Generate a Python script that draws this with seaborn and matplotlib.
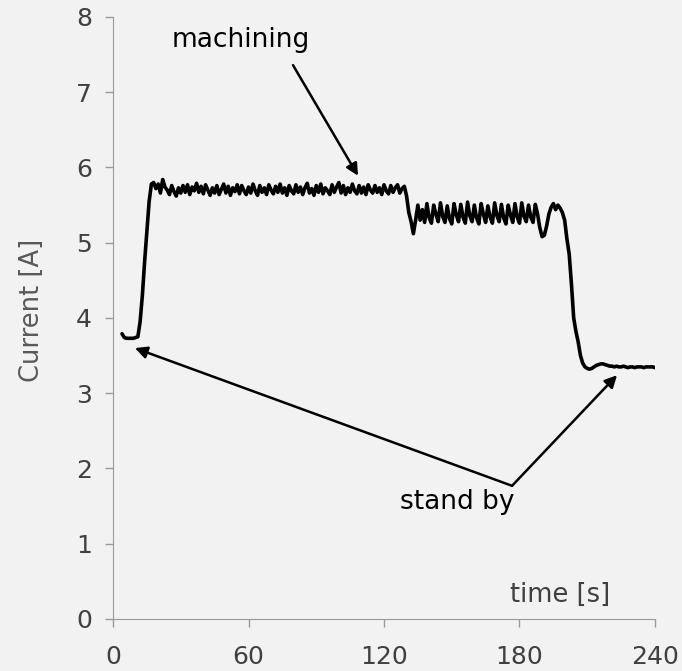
import numpy as np
import seaborn as sns
import matplotlib.pyplot as plt

# current trace, 1 s sampling
seg_start = [4, 12, 18, 130, 135, 189, 201, 212]

standby_start = [3.79, 3.74, 3.73, 3.73, 3.73, 3.73, 3.74, 3.75]
ramp_up = [3.95, 4.30, 4.75, 5.15, 5.55, 5.78]
machining_1 = [
    5.80, 5.72, 5.78, 5.66, 5.84, 5.74, 5.70, 5.64, 5.76, 5.68, 5.62, 5.73, 5.66, 5.76,
    5.67, 5.77, 5.64, 5.74, 5.69, 5.79, 5.67, 5.75, 5.65, 5.77, 5.70, 5.63, 5.73, 5.66,
    5.76, 5.64, 5.71, 5.78, 5.66, 5.75, 5.63, 5.73, 5.68, 5.77, 5.65, 5.76, 5.69, 5.64,
    5.74, 5.66, 5.78, 5.69, 5.63, 5.76, 5.67, 5.73, 5.64, 5.77, 5.70, 5.65, 5.75, 5.67,
    5.78, 5.66, 5.73, 5.63, 5.76, 5.69, 5.65, 5.77, 5.67, 5.74, 5.64, 5.73, 5.79, 5.66,
    5.72, 5.63, 5.76, 5.67, 5.78, 5.65, 5.73, 5.69, 5.64, 5.77, 5.67, 5.74, 5.80, 5.66,
    5.76, 5.64, 5.73, 5.67, 5.78, 5.69, 5.65, 5.76, 5.66, 5.74, 5.64, 5.77, 5.70, 5.66,
    5.76, 5.67, 5.73, 5.64, 5.77, 5.69, 5.65, 5.76, 5.67, 5.73, 5.77, 5.66, 5.72, 5.75,
]
step_down = [5.62, 5.40, 5.28, 5.12, 5.30]
machining_2 = [
    5.50, 5.30, 5.44, 5.27, 5.52, 5.33, 5.26, 5.50, 5.38, 5.28, 5.53, 5.35, 5.27, 5.49,
    5.32, 5.25, 5.52, 5.37, 5.28, 5.51, 5.34, 5.26, 5.54, 5.36, 5.28, 5.50, 5.33, 5.25,
    5.52, 5.38, 5.27, 5.49, 5.34, 5.26, 5.53, 5.36, 5.28, 5.51, 5.33, 5.25, 5.50, 5.37,
    5.27, 5.52, 5.34, 5.26, 5.53, 5.35, 5.28, 5.50, 5.34, 5.27, 5.51, 5.38,
]
finish = [5.20, 5.08, 5.10, 5.22, 5.38, 5.47, 5.52, 5.44, 5.50, 5.46, 5.40, 5.30]
ramp_down = [5.05, 4.85, 4.45, 4.00, 3.82, 3.68, 3.50, 3.40, 3.35, 3.33, 3.32]
standby_end = [3.33, 3.35, 3.37, 3.38, 3.39, 3.39, 3.38, 3.37, 3.36, 3.36, 3.35, 3.36,
               3.35, 3.35, 3.36, 3.35, 3.34, 3.35, 3.35, 3.34, 3.35, 3.35, 3.35, 3.34,
               3.35, 3.35, 3.35, 3.35, 3.34]

segments = [standby_start, ramp_up, machining_1, step_down,
            machining_2, finish, ramp_down, standby_end]

x_ticks = [0, 60, 120, 180, 240]
y_ticks = [0, 1, 2, 3, 4, 5, 6, 7, 8]

t = np.concatenate([s + np.arange(len(v)) for s, v in zip(seg_start, segments)])
current = np.concatenate(segments)

bg = "#f2f2f2"
sns.set_style("ticks", {"axes.facecolor": bg, "figure.facecolor": bg,
                        "axes.edgecolor": "#9a9a9a"})
plt.rcParams["font.family"] = ["DejaVu Sans"]

fig = plt.figure(figsize=(6.82, 6.71), dpi=100)
ax = fig.add_axes([0.1657, 0.0775, 0.7947, 0.8972])

sns.lineplot(x=t, y=current, color="black", linewidth=2.6, ax=ax)

ax.set_xlim(0, 240)
ax.set_ylim(0, 8)
ax.set_xticks(x_ticks)
ax.set_yticks(y_ticks)
ax.tick_params(axis="both", length=6, width=1, color="#9a9a9a",
               labelsize=18, labelcolor="#404040")
ax.tick_params(axis="x", pad=13)
ax.tick_params(axis="y", pad=9)
sns.despine(ax=ax)

ax.set_xlabel("")
ax.set_ylabel("Current [A]", fontsize=18.5, color="#595959")
ax.yaxis.set_label_coords(-0.125, 0.512)

ax.text(198, 0.32, "time [s]", fontsize=18.5, color="#404040",
        ha="center", va="center")

arrow = dict(arrowstyle="-|>", color="black", lw=1.8, mutation_scale=18,
             shrinkA=0, shrinkB=0)
ax.text(56.7, 7.69, "machining", fontsize=19, color="black",
        ha="center", va="center")
ax.annotate("", xy=(108.5, 5.89), xytext=(79.7, 7.36), arrowprops=arrow)

ax.text(152.3, 1.55, "stand by", fontsize=19, color="black",
        ha="center", va="center")
ax.annotate("", xy=(9.7, 3.60), xytext=(176.7, 1.77), arrowprops=arrow)
ax.annotate("", xy=(223.2, 3.24), xytext=(176.7, 1.77), arrowprops=arrow)

fig.savefig("out.png", dpi=100, facecolor=bg)
